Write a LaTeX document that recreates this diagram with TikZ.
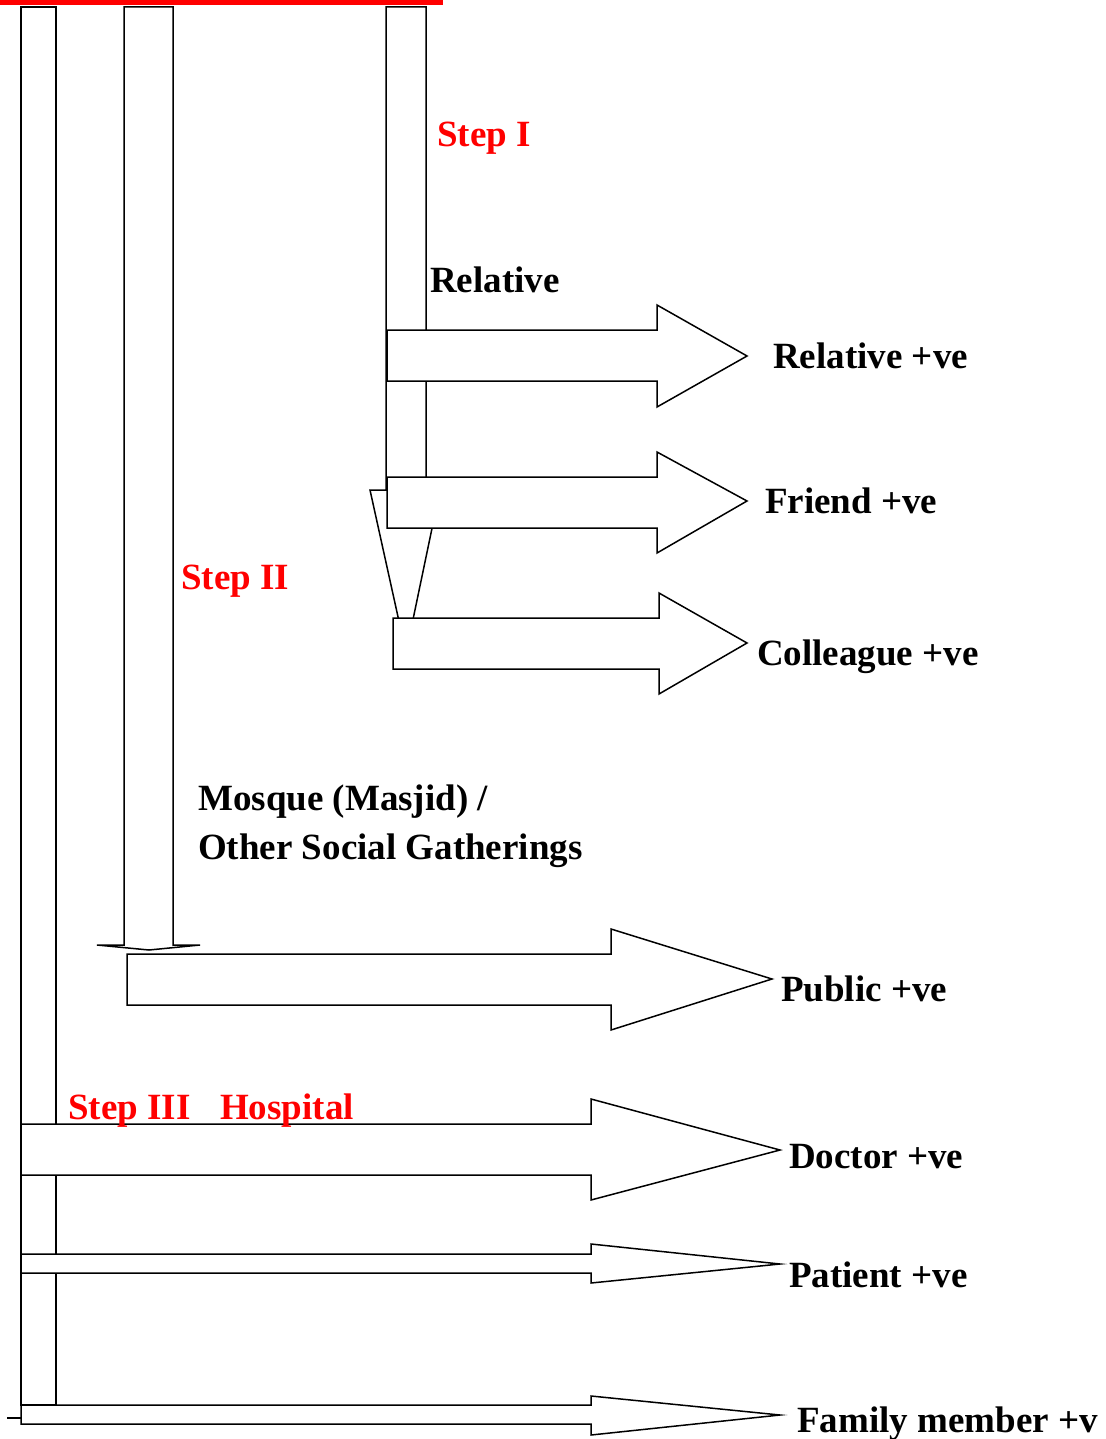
\documentclass[tikz,border=0pt]{standalone}
\usepackage{fontspec}
\setmainfont{Liberation Serif}
\begin{document}
\begin{tikzpicture}[x=1pt,y=-1pt,
  blk/.style={draw=black,fill=white,line width=1.5pt,line join=miter},
  lbl/.style={anchor=base west,inner sep=0pt,font=\fontsize{37}{44}\selectfont\bfseries},
  redlbl/.style={lbl,text=red}]
\useasboundingbox (0,0) rectangle (1105,1439);
% red top bar
\fill[red] (0,0) rectangle (443,5);
% vertical bars
\draw[blk] (21,7) rectangle (56,1405);
\draw[blk] (124,7) -- (173,7) -- (173,945) -- (200,945) -- (149,950) -- (97,945) -- (124,945) -- cycle;
\draw[blk] (386,7) -- (426,7) -- (426,490) -- (440,490) -- (406,653) -- (370,490) -- (386,490) -- cycle;
% horizontal block arrows
\draw[blk] (387,330) -- (657,330) -- (657,305) -- (747,356) -- (657,407) -- (657,381) -- (387,381) -- cycle;
\draw[blk] (387,477) -- (657,477) -- (657,452) -- (747,501) -- (657,553) -- (657,528) -- (387,528) -- cycle;
\draw[blk] (393,618) -- (659,618) -- (659,593) -- (747,643) -- (659,694) -- (659,669) -- (393,669) -- cycle;
\draw[blk] (127,954) -- (611,954) -- (611,929) -- (772,979) -- (611,1030) -- (611,1005) -- (127,1005) -- cycle;
\draw[blk] (21,1124) -- (591,1124) -- (591,1099) -- (780,1150) -- (591,1200) -- (591,1175) -- (21,1175) -- cycle;
\draw[blk] (21,1254) -- (591,1254) -- (591,1244) -- (780,1264) -- (591,1283) -- (591,1273) -- (21,1273) -- cycle;
\draw[blk] (21,1405) -- (591,1405) -- (591,1396) -- (780,1415) -- (591,1435) -- (591,1424) -- (21,1424) -- cycle;
\coordinate (tickL) at (7,1418);
\coordinate (tickR) at (21,1418);
\draw[line width=1.5pt] (tickL) -- (tickR);
% labels
\node[redlbl] (s1) at (437,147) {Step I};
\node[lbl] (rel) at (430,292) {Relative};
\node[lbl] (relp) at (773,368) {Relative +ve};
\node[lbl] (frp) at (765,513) {Friend +ve};
\node[lbl] (colp) at (757,665) {Colleague +ve};
\node[redlbl] (s2) at (181,589) {Step II};
\node[lbl] (mos1) at (198,810) {Mosque (Masjid) /};
\node[lbl] (mos2) at (198,859) {Other Social Gatherings};
\node[lbl] (pubp) at (781,1001) {Public +ve};
\node[redlbl] (s3) at (68,1119) {Step III};
\node[redlbl] (hosp) at (220,1119) {Hospital};
\node[lbl] (docp) at (789,1168) {Doctor +ve};
\node[lbl] (patp) at (789,1287) {Patient +ve};
\node[lbl] (famp) at (797,1432) {Family member +v};
\end{tikzpicture}
\end{document}
